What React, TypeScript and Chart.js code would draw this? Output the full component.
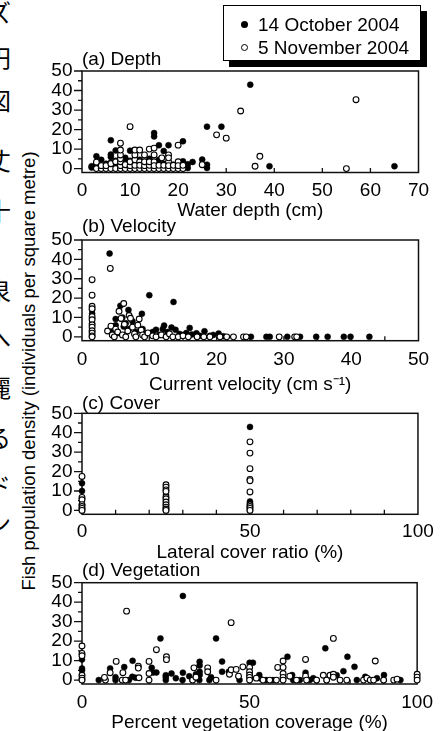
import React, { useEffect, useRef } from "react";
import { Chart, registerables } from "chart.js";

Chart.register(...registerables);

// ---------------- data ----------------
const seriesLabels = ["14 October 2004", "5 November 2004"];

const yTickLabels = [0, 10, 20, 30, 40, 50];

const depthTickLabels = [0, 10, 20, 30, 40, 50, 60, 70];
const velocityTickLabels = [0, 10, 20, 30, 40, 50];
const coverTickLabels = [0, 50, 100];
const vegetationTickLabels = [0, 50, 100];

// (a) water depth (cm) vs density
const depthOct: [number, number][] = [
  [2, 1.2], [2, 0.5], [3, 6.3], [3, 2], [3, 0.5], [4, 4.5], [4, 1.5], [5, 2.5], [5, 0.5],
  [6, 14.5], [6, 7.2], [6, 6], [6, 3], [6, 1], [7, 9.3], [7, 4], [7, 2], [8, 5], [8, 1.5],
  [9, 5.5], [9, 3], [9, 0.5], [10, 9.2], [10, 4], [10, 1], [11, 3.5], [11, 0.5], [12, 4.5],
  [12, 2], [13, 3], [13, 0.5], [14, 5], [14, 2], [15, 18.2], [15, 16.5], [15, 3], [15, 0.5],
  [16, 12], [16, 4.5], [16, 1.5], [17, 9], [17, 2.5], [18, 12], [18, 3], [18, 0.5], [19, 2],
  [20, 1.5], [21, 14], [21, 3.7], [21, 0.5], [22, 2.2], [22, 0.3], [23, 3.4], [25, 4.6],
  [26, 21.5], [26, 2], [26, 0.3], [29, 21.5], [35, 43], [39, 1.2], [65, 1.2],
];
const depthNov: [number, number][] = [
  [3, 0], [4, 0], [5, 0], [6, 0], [7, 0], [8, 0], [9, 0], [10, 0], [11, 0], [12, 0], [13, 0],
  [14, 0], [15, 0], [16, 0], [17, 0], [18, 0], [19, 0], [20, 0], [21, 0], [3, 3.3], [4, 1.5],
  [5, 1.5], [6, 2.5], [7, 3.5], [8, 1.5], [8, 3.5], [8, 5], [8, 7], [8, 9.5], [8, 13], [9, 2],
  [10, 21.5], [10, 1.5], [10, 3.5], [11, 1.7], [11, 4.5], [11, 7], [11, 9.5], [12, 9.5],
  [12, 3.5], [12, 1.7], [13, 1.5], [13, 3.5], [13, 7], [14, 10], [14, 1.7], [14, 3.5],
  [15, 10.5], [15, 7], [15, 3.5], [15, 1.5], [16, 1.7], [16.6, 5.5], [17, 1.7], [18, 7],
  [18, 3.5], [18, 5.5], [18, 1.5], [19, 1.7], [20, 12], [20, 3.5], [20, 1.5], [21, 1.7],
  [25, 2], [28, 17.3], [30, 15.6], [33, 29.5], [36, 1.2], [37, 6.3], [55, 0], [57, 35.3],
];

// (b) current velocity (cm/s) vs density
const velocityOct: [number, number][] = [
  [1.5, 14], [1.5, 12], [1.5, 9.5], [1.5, 7], [1.5, 3], [4.1, 43], [4.5, 3], [5, 9.2], [5, 6],
  [5.3, 2], [5.7, 16], [6, 10], [6.2, 5.3], [6.5, 7], [6.9, 13.9], [7, 4], [7.5, 8], [8, 2.5],
  [8.9, 11.9], [9, 4], [9.5, 1.5], [10, 21.5], [10.5, 2.5], [11, 3.6], [11.5, 1], [12, 4],
  [12.2, 5.8], [12.7, 2.5], [13.3, 4.8], [13.6, 18], [13.9, 3.6], [14.5, 1.5], [15, 1],
  [15.5, 2], [16, 4.6], [16.3, 1.2], [17, 1.8], [17.5, 0.5], [18.2, 2.9], [19, 0.5], [19.5, 1],
  [20.3, 1.7], [21, 0.3], [25.1, 0], [27.4, 0], [27.9, 0], [30.5, 0], [32.4, 0], [34.8, 0],
  [36.5, 0], [38.9, 0], [39.9, 0], [42.7, 0],
];
const velocityNov: [number, number][] = [
  [1.5, 29.5], [1.5, 21.5], [1.5, 15.8], [1.5, 14.5], [1.5, 10.5], [1.5, 8.8], [1.5, 6.2],
  [1.5, 5], [1.5, 3.1], [1.5, 1.9], [1.5, 0.5], [1.5, 0], [3.8, 3], [4.2, 35.3], [4.3, 5.5],
  [4.5, 1], [4.8, 0], [5, 4], [5.3, 2.5], [5.5, 13.2], [5.8, 9.5], [6, 1], [6.2, 17.2],
  [6.3, 6.5], [6.5, 0], [6.8, 3], [7, 11], [7.2, 9.6], [7.5, 5], [7.8, 1.5], [8, 0], [8.3, 6],
  [8.5, 9.2], [8.8, 3.5], [9, 1], [9.3, 0], [9.8, 2], [10.5, 0.5], [11, 0], [11.8, 1],
  [12.5, 0], [13, 1.5], [13.5, 0], [14.3, 0], [15, 0.5], [15.8, 0], [17.1, 0], [18.1, 0],
  [19, 0], [20.5, 0], [21.5, 0], [22.5, 0], [24, 0], [24.4, 0], [29.3, 0], [31.6, 0], [31.9, 0],
];

// (c) lateral cover ratio (%) vs density
const coverOct: [number, number][] = [
  [0, 14], [0, 10], [0, 6], [0, 3], [0, 1], [0, 0], [25, 8], [25, 5], [25, 3], [25, 1], [25, 0],
  [50, 43], [50, 4.6], [50, 3.8], [50, 1.5], [50, 0],
];
const coverNov: [number, number][] = [
  [0, 17.5], [0, 6.7], [0, 5.5], [0, 3], [0, 2], [0, 1], [0, 0], [25, 13.2], [25, 12],
  [25, 10.6], [25, 9.8], [25, 6.8], [25, 6], [25, 4.3], [25, 2.9], [25, 1.7], [25, 0.7], [25, 0],
  [50, 35.3], [50, 29.5], [50, 21.5], [50, 16], [50, 15.3], [50, 9.5], [50, 2.9], [50, 2],
  [50, 1], [50, 0],
];

// (d) percent vegetation coverage (%) vs density
const vegetationOct: [number, number][] = [
  [0, 10.6], [0, 6], [0, 5], [0, 2.6], [0, 0], [5, 0], [8.4, 6], [10, 0], [10, 1.5], [12.6, 6.7],
  [14, 0], [15.1, 9.9], [15, 1.7], [16, 1.2], [20.8, 6.3], [21.2, 3.9], [22.2, 3.9], [23.4, 21.4],
  [25, 0], [25, 1.5], [25, 2.5], [26.7, 3.4], [28, 1], [30.1, 43.2], [30.1, 3.8], [30, 0], [32, 2],
  [33, 0], [34, 3], [35.1, 9.4], [35.1, 7.5], [35.1, 4.3], [35.1, 2.6], [35, 0], [38, 0],
  [38.5, 1.5], [40, 21.4], [41.8, 9.5], [41.8, 4.3], [43.8, 4.3], [47, 0], [50, 8.9], [51, 8.9],
  [52.9, 2.6], [53, 1], [55, 0], [57, 0], [60, 1], [61.3, 12], [62.7, 2.6], [63, 0], [65, 0],
  [66.7, 3.8], [68, 0], [69, 1], [70, 0], [72.6, 16.3], [73, 0], [76, 2.5], [78, 4.6], [79.2, 12],
  [81.3, 6.8], [82, 0], [84.5, 1.7], [86, 0], [88, 1], [90.1, 2.6], [90, 0], [95, 0],
];
const vegetationNov: [number, number][] = [
  [0, 17.5], [0, 13.7], [0, 12.5], [0, 2.5], [0, 1], [0, 0], [7, 0], [6.7, 1.4], [8.4, 3.8],
  [10.2, 9.6], [12.2, 3.8], [12, 0], [13.3, 35.4], [13, 0], [16.8, 7.2], [16.8, 6.2], [17, 1.2],
  [20, 9.6], [20, 3.4], [20, 0], [22.2, 15.6], [25.2, 12], [25.2, 10.5], [33.4, 6.3], [33, 0],
  [34, 1.5], [37.5, 6.3], [37.5, 4.3], [40, 0], [44, 3], [44.5, 29.5], [44.5, 5.3], [46, 5.5],
  [46.7, 2], [48, 6.8], [50, 6.5], [50, 4.3], [50, 2.6], [50, 1.4], [50, 0], [52, 1], [54, 0],
  [56, 0], [58.4, 6.5], [58, 0], [60, 9.8], [60, 6.5], [60, 3.4], [60, 1.4], [60, 0], [62, 2],
  [64, 0], [66.7, 10.6], [66.7, 2], [67, 0], [70, 0], [72, 2.5], [73, 0], [74, 2.5], [75, 21.4],
  [75, 3], [75, 1.5], [77, 0], [79, 0], [84, 0], [85, 1], [86, 0], [87, 0], [87.5, 9.8], [90, 0],
  [93, 0], [94, 0.5], [100, 3], [100, 1.5], [100, 0],
];

// ---------------- layout / style ----------------
const FONT = '"Liberation Sans", Arial, Helvetica, sans-serif';
const W = 442;
const H = 731;
const PLOT_LEFT = 82;
const PLOT_RIGHT = 418.5;
const FS = 19;

type PanelDef = {
  title: string;
  xTitle: string;
  xMax: number;
  xLabels: number[];
  xTickStep: number;
  oct: [number, number][];
  nov: [number, number][];
  titleCenter: number;
  chartTop: number;
  chartBottom: number;
  tickCenter: number;
  axisTitleCenter: number;
};

const panels: PanelDef[] = [
  {
    title: "(a) Depth", xTitle: "Water depth (cm)", xMax: 70, xLabels: depthTickLabels, xTickStep: 10,
    oct: depthOct, nov: depthNov,
    titleCenter: 59.5, chartTop: 71, chartBottom: 172.5, tickCenter: 190.5, axisTitleCenter: 210.5,
  },
  {
    title: "(b) Velocity", xTitle: "Current velocity (cm s\u207B\u00B9)", xMax: 50, xLabels: velocityTickLabels, xTickStep: 5,
    oct: velocityOct, nov: velocityNov,
    titleCenter: 226.5, chartTop: 240, chartBottom: 340.7, tickCenter: 359.5, axisTitleCenter: 384.5,
  },
  {
    title: "(c) Cover", xTitle: "Lateral cover ratio (%)", xMax: 100, xLabels: coverTickLabels, xTickStep: 10,
    oct: coverOct, nov: coverNov,
    titleCenter: 403.5, chartTop: 413.3, chartBottom: 514.3, tickCenter: 532, axisTitleCenter: 552.5,
  },
  {
    title: "(d) Vegetation", xTitle: "Percent vegetation coverage (%)", xMax: 100, xLabels: vegetationTickLabels, xTickStep: 10,
    oct: vegetationOct, nov: vegetationNov,
    titleCenter: 570.5, chartTop: 582.7, chartBottom: 684, tickCenter: 702.5, axisTitleCenter: 722.5,
  },
];

const sideChars = ["ズ", "円", "図", "丈", "十", "泉", "へ", "麗", "る", "ド", "ン"];
const sideCharY = [12, 57, 100, 160, 210, 290, 337, 387, 437, 485, 522];

const framePlugin = {
  id: "frame",
  beforeDatasetsDraw(chart: any, _args: any, opts: any) {
    const { ctx, chartArea: a, scales } = chart;
    const xs = scales.x;
    const ys = scales.y;
    ctx.save();
    ctx.strokeStyle = "#111";
    ctx.lineWidth = 1.5;
    ctx.strokeRect(a.left, a.top, a.right - a.left, a.bottom - a.top);
    ctx.lineWidth = 1.3;
    ctx.beginPath();
    for (let v = 0; v <= 50; v += 5) {
      const py = ys.getPixelForValue(v);
      const len = v % 10 === 0 ? 8 : 4;
      ctx.moveTo(a.left - len, py);
      ctx.lineTo(a.left, py);
    }
    const step = opts.step as number;
    for (let v = step; v < xs.max - 1e-9; v += step) {
      const px = xs.getPixelForValue(v);
      ctx.moveTo(px, a.bottom);
      ctx.lineTo(px, a.bottom - 4.5);
    }
    ctx.stroke();
    ctx.restore();
  },
};

function Panel({ def }: { def: PanelDef }) {
  const ref = useRef<HTMLCanvasElement>(null);
  const top = Math.round(def.titleCenter - FS / 2);
  const bottom = Math.round(def.axisTitleCenter + FS / 2);
  const height = bottom - top;
  const titlePad = def.chartTop - top - FS;
  const xScaleH = bottom - def.chartBottom;
  const tickPad = def.tickCenter - FS / 2 - def.chartBottom;

  useEffect(() => {
    const font = { family: FONT, size: FS, lineHeight: 1, weight: "normal" as const };
    const chart = new Chart(ref.current as HTMLCanvasElement, {
      type: "scatter",
      data: {
        datasets: [
          {
            label: seriesLabels[0],
            data: def.oct.map(([x, y]) => ({ x, y })),
            pointRadius: 3,
            pointBackgroundColor: "#000",
            pointBorderColor: "#000",
            pointBorderWidth: 0.5,
            order: 2,
            clip: false,
          },
          {
            label: seriesLabels[1],
            data: def.nov.map(([x, y]) => ({ x, y })),
            pointRadius: 2.9,
            pointBackgroundColor: "#fff",
            pointBorderColor: "#000",
            pointBorderWidth: 1.1,
            order: 1,
            clip: false,
          },
        ],
      },
      options: {
        responsive: false,
        animation: false,
        devicePixelRatio: 1,
        layout: { padding: { left: 0, right: W - PLOT_RIGHT, top: 0, bottom: 0 } },
        events: [],
        plugins: {
          legend: { display: false },
          tooltip: { enabled: false },
          title: {
            display: true,
            text: def.title,
            align: "start",
            fullSize: false,
            color: "#000",
            font,
            padding: { top: 0, bottom: titlePad },
          },
          frame: { step: def.xTickStep },
        } as any,
        scales: {
          x: {
            type: "linear",
            min: 0,
            max: def.xMax,
            grid: { display: false, drawTicks: false },
            border: { display: false },
            afterBuildTicks: (s: any) => {
              s.ticks = def.xLabels.map((v) => ({ value: v }));
            },
            afterFit: (s: any) => {
              s.height = xScaleH;
            },
            ticks: {
              color: "#000",
              font,
              padding: tickPad,
              maxRotation: 0,
              autoSkip: false,
              callback: (v: any) => String(v),
            },
            title: {
              display: true,
              text: def.xTitle,
              color: "#000",
              font,
              padding: { top: 0, bottom: 0 },
            },
          },
          y: {
            type: "linear",
            min: -2,
            max: 50,
            grid: { display: false, drawTicks: false },
            border: { display: false },
            afterBuildTicks: (s: any) => {
              s.ticks = yTickLabels.map((v) => ({ value: v }));
            },
            afterFit: (s: any) => {
              s.width = PLOT_LEFT;
            },
            ticks: {
              color: "#000",
              font,
              padding: 9.5,
              autoSkip: false,
              callback: (v: any) => String(v),
            },
          },
        },
      } as any,
      plugins: [framePlugin],
    });
    return () => chart.destroy();
  }, []);

  return (
    <canvas
      ref={ref}
      width={W}
      height={height}
      style={{ position: "absolute", left: 0, top, width: W, height, display: "block" }}
    />
  );
}

export default function App() {
  return (
    <div
      style={{
        position: "fixed",
        left: 0,
        top: 0,
        width: W,
        height: H,
        overflow: "hidden",
        background: "#fff",
        fontFamily: FONT,
        color: "#000",
      }}
    >
      {sideChars.map((c, i) => (
        <span
          key={i}
          style={{
            position: "absolute",
            left: -13,
            top: sideCharY[i] - 12,
            width: 24,
            height: 24,
            lineHeight: "24px",
            textAlign: "center",
            fontSize: 24,
            fontFamily: '"Noto Sans CJK JP", sans-serif',
          }}
        >
          {c}
        </span>
      ))}

      <div
        style={{
          position: "absolute",
          left: 29,
          top: 371,
          transform: "translate(-50%, -50%) rotate(-90deg)",
          whiteSpace: "nowrap",
          fontSize: 18.5,
          lineHeight: 1,
        }}
      >
        Fish population density (individuals per square metre)
      </div>

      {panels.map((p, i) => (
        <Panel key={i} def={p} />
      ))}

      <div
        style={{
          position: "absolute",
          left: 223,
          top: 5,
          width: 198,
          height: 56,
          boxSizing: "border-box",
          border: "1.5px solid #000",
          boxShadow: "6px 6px 0 #000",
          background: "#fff",
          fontSize: FS,
          lineHeight: 1,
        }}
      >
        {seriesLabels.map((label, i) => (
          <div key={i} style={{ position: "absolute", left: 0, top: i === 0 ? 18 : 41.5, width: "100%" }}>
            <span
              style={{
                position: "absolute",
                left: 17,
                top: -3.5,
                width: 7,
                height: 7,
                borderRadius: "50%",
                boxSizing: "border-box",
                background: i === 0 ? "#000" : "#fff",
                border: i === 0 ? "none" : "1.2px solid #000",
              }}
            />
            <span style={{ position: "absolute", left: 34, top: -FS / 2, whiteSpace: "nowrap" }}>{label}</span>
          </div>
        ))}
      </div>
    </div>
  );
}
